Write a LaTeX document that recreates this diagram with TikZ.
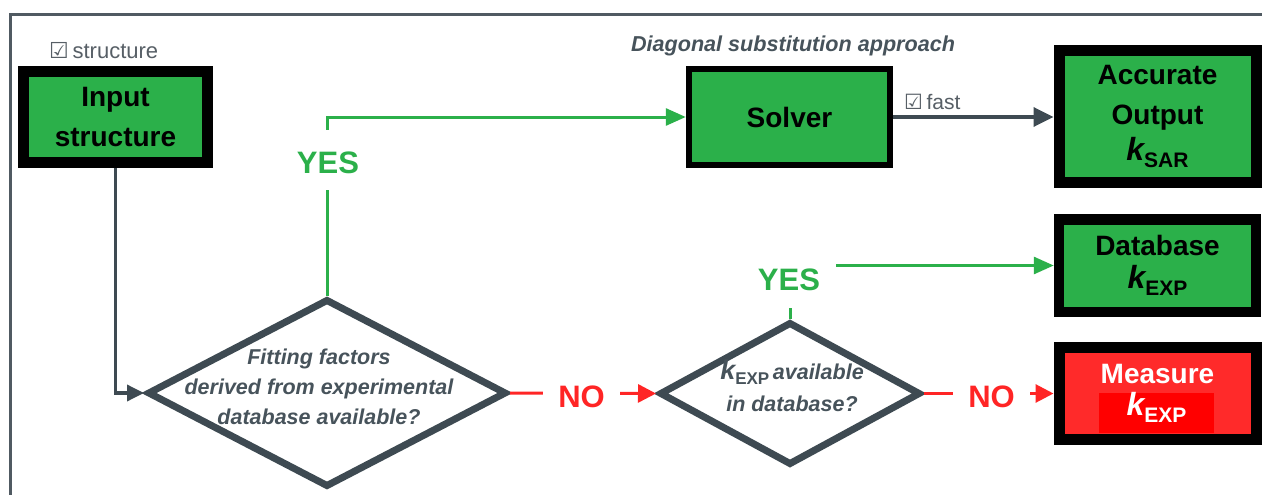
\documentclass[tikz,border=0pt]{standalone}
\usepackage{fontspec}
\setmainfont{Liberation Sans}
\newfontfamily\symfont{DejaVu Sans}
\usetikzlibrary{shapes.geometric,arrows.meta}
\definecolor{fgreen}{HTML}{2BB04A}
\definecolor{slate}{HTML}{3E4A52}
\definecolor{nred}{HTML}{FF2525}
\definecolor{mred}{HTML}{FF2A2A}
\definecolor{kred}{HTML}{FF0000}
\definecolor{dtext}{HTML}{47535B}
\definecolor{lgray}{HTML}{575F66}
\definecolor{framec}{HTML}{505A62}
\newcommand\ksub[1]{{\bfseries\itshape\fontsize{32}{32}\selectfont k}\raisebox{-7pt}{\bfseries\upshape\fontsize{21}{21}\selectfont #1}}
\newcommand\ksubd[1]{{\bfseries\itshape\fontsize{27}{27}\selectfont k}\raisebox{-5pt}{\bfseries\upshape\fontsize{17}{17}\selectfont #1}}
\begin{document}
\begin{tikzpicture}[x=1pt,y=-1pt,
  box/.style={draw=black, fill=fgreen, inner sep=0pt, align=center,
    font=\bfseries\fontsize{28}{40}\selectfont},
  dia/.style={diamond, draw=slate, line width=7pt, inner sep=0pt, fill=white},
  diatext/.style={text=dtext, align=center, font=\bfseries\itshape\fontsize{21.5}{30}\selectfont},
  garrow/.style={draw=fgreen, line width=3pt, -{Triangle[length=20pt,width=17pt]}},
  sarrow/.style={draw=slate, line width=3.5pt, -{Triangle[length=20pt,width=19pt]}},
  rarrow/.style={draw=nred, line width=3pt, -{Triangle[length=18pt,width=18pt]}},
  lbl/.style={fill=white, inner ysep=0pt, anchor=base, font=\bfseries\fontsize{31}{31}\selectfont},
  note/.style={text=lgray, anchor=base west, inner sep=0pt, font=\fontsize{22}{22}\selectfont}]
\useasboundingbox (0,0) rectangle (1262,495);
\fill[white] (0,0) rectangle (1262,495);
% frame
\draw[framec, line width=3pt] (10.5,495) -- (10.5,14.5) -- (1262,14.5);

% boxes
\node[box, line width=11pt, minimum width=184pt, minimum height=91pt] (inp) at (115.5,117) {Input\\structure};
\node[box, line width=6.5pt, minimum width=201pt, minimum height=95.5pt] (solver) at (789.5,117) {Solver};
\node[box, line width=11pt, minimum width=197pt, minimum height=132pt] (acc) at (1157.5,116.5) {Accurate\\Output\\[-4pt]\ksub{SAR}};
\node[box, line width=10.5pt, minimum width=197pt, minimum height=92.5pt] (db) at (1157.5,265.5) {Database\\[-7pt]\ksub{EXP}};
\node[box, fill=mred, line width=11pt, minimum width=197pt, minimum height=92pt] (meas) at (1157.5,393.5) {};
\node[anchor=base, inner sep=0pt, text=white, font=\bfseries\fontsize{28}{28}\selectfont] (meastxt) at (1157.5,383) {Measure};
\node[fill=kred, minimum width=115pt, inner xsep=0pt, inner ysep=0pt, text height=22pt, text depth=18pt, text=white] (meask) at (1156.5,413) {\ksub{EXP}};

% diamonds
\node[dia, minimum width=359pt, minimum height=188pt] (d1) at (327,393) {};
\node[diatext] (d1txt) at (319,387) {Fitting factors\\derived from experimental\\database available?};
\node[dia, minimum width=261pt, minimum height=143pt] (d2) at (790,393.5) {};
\node[diatext, font=\bfseries\itshape\fontsize{21.5}{32}\selectfont] (d2txt) at (792,386) {\ksubd{EXP}\,available\\in database?};

% texts
\node[note] (nstruct) at (49,59) {{\symfont ☑}\,structure};
\node[note, font=\fontsize{21}{21}\selectfont] (nfast) at (904,110) {{\symfont ☑}\,fast};
\node[anchor=base, inner sep=0pt, text=dtext, font=\bfseries\itshape\fontsize{21.6}{21.6}\selectfont] (ndiag) at (793,52) {Diagonal substitution approach};

% connectors
\draw[sarrow, -{Triangle[length=17pt,width=16pt]}] (inp.south) |- (d1.west);
\draw[garrow] (d1.north) |- (solver.west);
\draw[sarrow] (solver.east) -- (solver.east -| acc.west);
\draw[garrow] (d2.north) |- (db.west);
\draw[rarrow] (d1.east) -- (d2.west);
\draw[rarrow] (d2.east) -- (d2.east -| meas.west);

% labels (mask the connectors)
\node[lbl, text=fgreen, inner xsep=6pt, text height=43pt, text depth=17pt] (yes1) at (328,173) {YES};
\node[lbl, text=fgreen, inner xsep=16pt, text height=28pt, text depth=18pt] (yes2) at (789,290) {YES};
\node[lbl, text=nred, inner xsep=15pt, text height=26pt, text depth=4pt] (no1) at (581.5,407) {NO};
\node[lbl, text=nred, inner xsep=15pt, text height=26pt, text depth=4pt] (no2) at (991.5,407) {NO};
\end{tikzpicture}
\end{document}
